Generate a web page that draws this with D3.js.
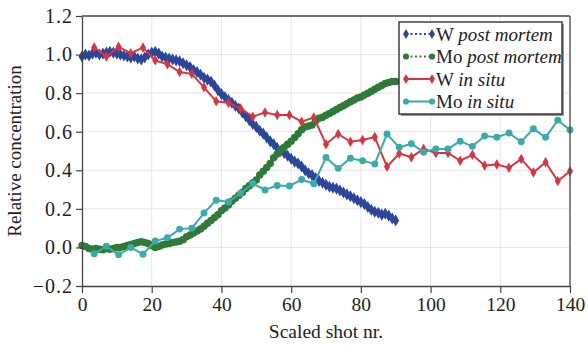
<!DOCTYPE html>
<html>
<head>
<meta charset="utf-8">
<script src="https://cdn.jsdelivr.net/npm/d3@7"></script>
<style>
  html, body { margin: 0; padding: 0; background: #fff; }
  svg { display: block; }
</style>
</head>
<body>
<svg id="chart" width="588" height="346"></svg>
<script>
// Post mortem profiles: one sample per scaled shot, 0..90
const pmShots = d3.range(0, 91);
const wPostMortem = [
  0.99, 1.00, 0.995, 1.005, 1.01, 1.00, 1.005, 1.01, 1.015, 1.01,
  1.005, 1.00, 0.995, 0.99, 0.985, 0.99, 0.98, 0.975, 0.985, 1.00,
  1.01, 1.015, 1.005, 0.99, 0.985, 0.98, 0.975, 0.97, 0.965, 0.955,
  0.945, 0.935, 0.92, 0.91, 0.895, 0.88, 0.87, 0.86, 0.84, 0.815,
  0.795, 0.78, 0.765, 0.75, 0.735, 0.72, 0.70, 0.68, 0.66, 0.64,
  0.625, 0.605, 0.59, 0.57, 0.55, 0.535, 0.515, 0.50, 0.49, 0.475,
  0.46, 0.445, 0.435, 0.42, 0.40, 0.385, 0.375, 0.36, 0.345, 0.335,
  0.325, 0.315, 0.31, 0.305, 0.295, 0.285, 0.275, 0.265, 0.255, 0.245,
  0.235, 0.225, 0.21, 0.195, 0.185, 0.18, 0.17, 0.175, 0.165, 0.15,
  0.14
];
const moPostMortem = [
  0.01, 0.005, -0.005, -0.01, -0.005, -0.01, -0.012, -0.005, -0.01, -0.005,
  0.0, 0.0, 0.005, 0.01, 0.015, 0.02, 0.025, 0.03, 0.025, 0.02,
  0.01, 0.0, 0.005, 0.012, 0.018, 0.02, 0.025, 0.028, 0.032, 0.04,
  0.055, 0.065, 0.075, 0.085, 0.095, 0.11, 0.125, 0.14, 0.155, 0.17,
  0.19, 0.205, 0.22, 0.24, 0.255, 0.27, 0.285, 0.305, 0.32, 0.335,
  0.35, 0.375, 0.395, 0.415, 0.435, 0.465, 0.485, 0.505, 0.52, 0.535,
  0.55, 0.57, 0.59, 0.61, 0.625, 0.63, 0.635, 0.655, 0.67, 0.675,
  0.685, 0.695, 0.705, 0.715, 0.725, 0.735, 0.745, 0.755, 0.765, 0.775,
  0.78, 0.79, 0.80, 0.81, 0.82, 0.83, 0.84, 0.85, 0.855, 0.86,
  0.86
];

// In situ profiles: one sample every 3.5 scaled shots, 3.5..140
const isShots = d3.range(1, 41).map(k => k * 3.5);
const wInSitu = [
  1.037, 0.99, 1.04, 1.007, 1.036, 0.97, 0.95, 0.91, 0.90, 0.83,
  0.758, 0.75, 0.72, 0.678, 0.70, 0.687, 0.687, 0.652, 0.674, 0.535,
  0.588, 0.548, 0.557, 0.572, 0.418, 0.487, 0.468, 0.511, 0.49, 0.49,
  0.45, 0.48, 0.425, 0.43, 0.413, 0.458, 0.388, 0.442, 0.344, 0.395
];
const moInSitu = [
  -0.033, 0.006, -0.038, 0.0, -0.035, 0.033, 0.05, 0.095, 0.10, 0.178,
  0.245, 0.236, 0.281, 0.331, 0.298, 0.321, 0.319, 0.352, 0.33, 0.466,
  0.41, 0.462, 0.45, 0.433, 0.588, 0.519, 0.538, 0.494, 0.511, 0.511,
  0.551, 0.524, 0.578, 0.571, 0.593, 0.548, 0.615, 0.571, 0.66, 0.609
];

const xTicks = [0, 20, 40, 60, 80, 100, 120, 140];
const yTicks = [-0.2, 0.0, 0.2, 0.4, 0.6, 0.8, 1.0, 1.2];

const SERIF = "'Liberation Serif', 'Times New Roman', serif";

const series = [
  { name: "W", tag: "post mortem", x: pmShots, y: wPostMortem, color: "#2b469b", symbol: d3.symbolDiamond, size: 42, dash: "2,2.5" },
  { name: "Mo", tag: "post mortem", x: pmShots, y: moPostMortem, color: "#2f7a37", symbol: d3.symbolCircle, size: 44, dash: "2,2.5" },
  { name: "W", tag: "in situ", x: isShots, y: wInSitu, color: "#d6363f", symbol: d3.symbolDiamond, size: 32, dash: null },
  { name: "Mo", tag: "in situ", x: isShots, y: moInSitu, color: "#3aabab", symbol: d3.symbolCircle, size: 38, dash: null }
];

const svg = d3.select("#chart");
const m = { left: 82, right: 18, top: 16, bottom: 60 };
const W = 588, H = 346;
const x = d3.scaleLinear().domain([0, 140]).range([m.left, W - m.right]);
const y = d3.scaleLinear().domain([-0.2, 1.2]).range([H - m.bottom, m.top]);

// grid
const grid = svg.append("g").attr("stroke", "#e6e6e6").attr("stroke-width", 1);
grid.selectAll(".gx").data(xTicks.slice(1, -1)).join("line")
  .attr("x1", d => x(d)).attr("x2", d => x(d))
  .attr("y1", y(-0.2)).attr("y2", y(1.2));
grid.selectAll(".gy").data(yTicks.slice(1, -1)).join("line")
  .attr("y1", d => y(d)).attr("y2", d => y(d))
  .attr("x1", x(0)).attr("x2", x(140));

// series
const plot = svg.append("g");
series.forEach(s => {
  const pts = s.x.map((xv, i) => [xv, s.y[i]]);
  const line = d3.line().x(d => x(d[0])).y(d => y(d[1]));
  plot.append("path").datum(pts)
    .attr("fill", "none").attr("stroke", s.color).attr("stroke-width", 2)
    .attr("stroke-dasharray", s.dash)
    .attr("d", line);
  plot.append("g").selectAll("path").data(pts).join("path")
    .attr("transform", d => `translate(${x(d[0])},${y(d[1])})`)
    .attr("d", d3.symbol().type(s.symbol).size(s.size))
    .attr("fill", s.color);
});

// axes
const fmt = d => d.toFixed(1).replace("-", "\u2212");
const xAxis = svg.append("g").attr("transform", `translate(0,${y(-0.2)})`)
  .call(d3.axisBottom(x).tickValues(xTicks).tickSize(7).tickPadding(4).tickSizeOuter(0));
const yAxis = svg.append("g").attr("transform", `translate(${x(0)},0)`)
  .call(d3.axisLeft(y).tickValues(yTicks).tickFormat(fmt).tickSize(6).tickPadding(4).tickSizeOuter(0));
[xAxis, yAxis].forEach(a => {
  a.attr("font-family", null).attr("font-size", null);
  a.select(".domain").attr("stroke", "#444").attr("stroke-width", 1.3);
  a.selectAll(".tick line").attr("stroke", "#444").attr("stroke-width", 1.2);
  a.selectAll(".tick text").style("font-family", SERIF).style("font-size", "19.5px").attr("fill", "#222");
});
yAxis.selectAll(".tick text").style("font-size", "20px").style("letter-spacing", "1px").attr("dx", "1px");

// top and right frame
svg.append("line").attr("x1", x(0)).attr("x2", x(140)).attr("y1", y(1.2)).attr("y2", y(1.2))
  .attr("stroke", "#444").attr("stroke-width", 1.3);
svg.append("line").attr("x1", x(140)).attr("x2", x(140)).attr("y1", y(1.2)).attr("y2", y(-0.2))
  .attr("stroke", "#444").attr("stroke-width", 1.3);

// axis titles
svg.append("text").attr("x", (x(0) + x(140)) / 2).attr("y", 338)
  .attr("text-anchor", "middle").style("font-family", SERIF).style("font-size", "19.5px")
  .attr("fill", "#222").text("Scaled shot nr.");
svg.append("text").attr("transform", `translate(21,${(y(-0.2) + y(1.2)) / 2}) rotate(-90)`)
  .attr("text-anchor", "middle").style("font-family", SERIF).style("font-size", "19px")
  .attr("fill", "#222").text("Relative concentration");

// legend
const lg = svg.append("g").attr("transform", "translate(399,22)");
lg.append("rect").attr("x", 2).attr("y", 2).attr("width", 163).attr("height", 92).attr("fill", "#999");
lg.append("rect").attr("width", 163).attr("height", 92).attr("fill", "#fff").attr("stroke", "#222").attr("stroke-width", 1.3);
series.forEach((s, i) => {
  const gy = 12 + i * 22.5;
  const row = lg.append("g").attr("transform", `translate(0,${gy})`);
  row.append("line").attr("x1", 7).attr("x2", 33).attr("y1", 0).attr("y2", 0)
    .attr("stroke", s.color).attr("stroke-width", 2).attr("stroke-dasharray", s.dash);
  [7, 33].forEach(px => row.append("path").attr("transform", `translate(${px},0)`)
    .attr("d", d3.symbol().type(s.symbol).size(30)).attr("fill", s.color));
  const t = row.append("text").attr("x", 37).attr("y", 6.5)
    .style("font-family", SERIF).style("font-size", "19px").attr("fill", "#222");
  t.append("tspan").text(s.name + " ");
  t.append("tspan").attr("font-style", "italic").text(s.tag);
});
</script>
</body>
</html>
